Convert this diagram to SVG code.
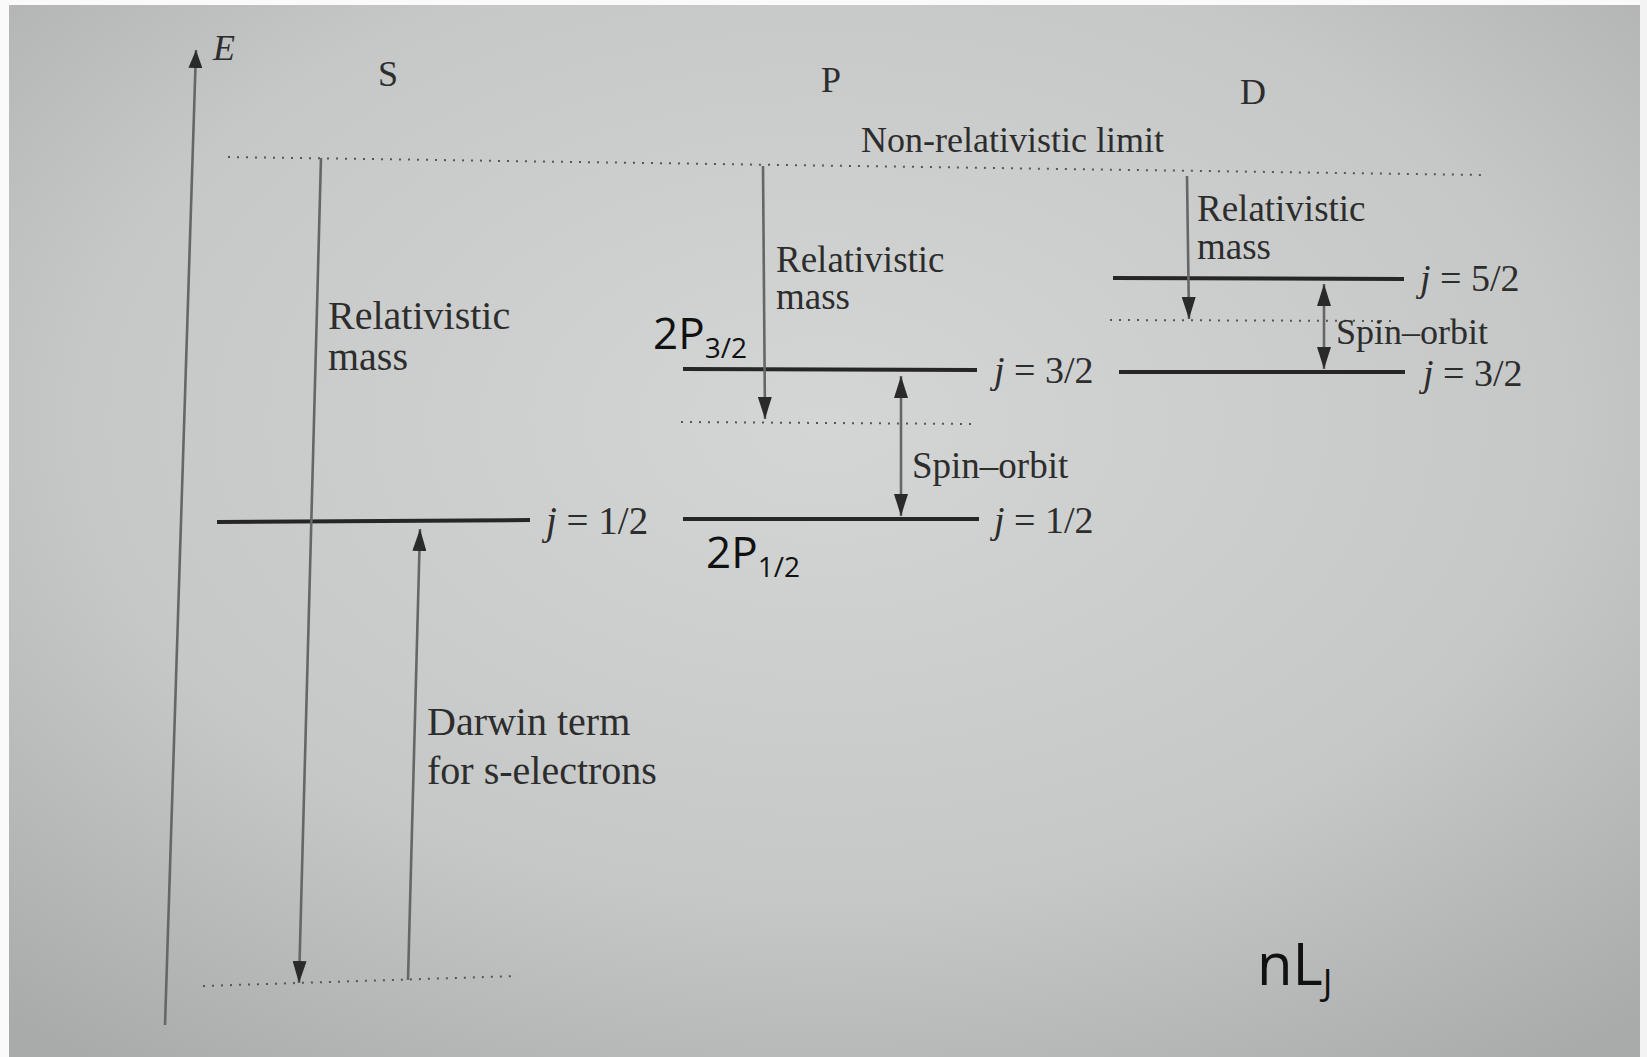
<svg xmlns="http://www.w3.org/2000/svg" width="1647" height="1057" viewBox="0 0 1647 1057">
<defs>
<radialGradient id="bg" cx="0.5" cy="0.4" r="0.75">
<stop offset="0" stop-color="#d4d6d5"/>
<stop offset="0.6" stop-color="#c6c8c7"/>
<stop offset="1" stop-color="#a9abaa"/>
</radialGradient>
<marker id="ah" viewBox="0 0 22 14" refX="22" refY="7" markerWidth="22" markerHeight="14" markerUnits="userSpaceOnUse" orient="auto-start-reverse">
<path d="M0,0 L22,7 L0,14 z" fill="#2a2a2a"/>
</marker>
<marker id="ahs" viewBox="0 0 18 14" refX="18" refY="7" markerWidth="18" markerHeight="14" markerUnits="userSpaceOnUse" orient="auto">
<path d="M0,0 L18,7 L0,14 z" fill="#2a2a2a"/>
</marker>
</defs>
<style>
.t{font-family:"Liberation Serif","Times New Roman",serif;fill:#2d2d2d;}
.s{font-family:"Open Sans","Noto Sans",sans-serif;fill:#111;}
.lvl{stroke:#262626;stroke-width:4;fill:none;}
.dot{stroke:#555;stroke-width:2;stroke-dasharray:2 7;fill:none;}
.arr{stroke:#666;stroke-width:2.6;fill:none;}
</style>
<rect x="0" y="0" width="1647" height="1057" fill="url(#bg)"/>
<rect x="0" y="0" width="1647" height="5" fill="#fafafa"/>
<rect x="0" y="0" width="9" height="1057" fill="#fafafa"/>
<rect x="1640" y="0" width="7" height="1057" fill="#f3f3f3"/>

<g id="axis">
<line class="arr" x1="165" y1="1025" x2="196" y2="50" marker-end="url(#ahs)" stroke="#777" stroke-width="3"/>
<text class="t" x="213" y="60" font-size="36" font-style="italic">E</text>
</g>

<g id="headers">
<text class="t" x="378" y="86" font-size="36">S</text>
<text class="t" x="821" y="92" font-size="36">P</text>
<text class="t" x="1240" y="104" font-size="36">D</text>
<text class="t" x="861" y="152" font-size="36">Non-relativistic limit</text>
</g>

<g id="nonrel-limit">
<line class="dot" x1="228" y1="157" x2="1481" y2="175"/>
</g>

<g id="S-level">
<line class="lvl" x1="217" y1="522" x2="530" y2="520"/>
<text class="t" x="546" y="534" font-size="39"><tspan font-style="italic">j</tspan> = 1/2</text>
<line class="dot" x1="203" y1="986" x2="518" y2="976"/>
</g>

<g id="P-levels">
<line class="lvl" x1="683" y1="369" x2="977" y2="370"/>
<text class="t" x="994" y="383" font-size="38"><tspan font-style="italic">j</tspan> = 3/2</text>
<line class="dot" x1="681" y1="422" x2="972" y2="424"/>
<line class="lvl" x1="683" y1="519" x2="979" y2="519"/>
<text class="t" x="994" y="533" font-size="38"><tspan font-style="italic">j</tspan> = 1/2</text>
<text class="s" x="653" y="349" font-size="44">2P<tspan font-size="28" dy="9">3/2</tspan></text>
<text class="s" x="706" y="568" font-size="44">2P<tspan font-size="28" dy="9">1/2</tspan></text>
</g>

<g id="D-levels">
<line class="lvl" x1="1113" y1="278" x2="1404" y2="279"/>
<text class="t" x="1420" y="291" font-size="38"><tspan font-style="italic">j</tspan> = 5/2</text>
<line class="dot" x1="1110" y1="320" x2="1397" y2="321"/>
<line class="lvl" x1="1119" y1="372" x2="1405" y2="372"/>
<text class="t" x="1423" y="386" font-size="38"><tspan font-style="italic">j</tspan> = 3/2</text>
</g>

<g id="connectors">
<line class="arr" x1="321" y1="158" x2="299" y2="983" marker-end="url(#ah)"/>
<line class="arr" x1="408" y1="980" x2="420" y2="529" marker-end="url(#ah)"/>
<line class="arr" x1="763" y1="166" x2="765" y2="419" marker-end="url(#ah)"/>
<line class="arr" x1="901" y1="376" x2="901" y2="516" marker-start="url(#ah)" marker-end="url(#ah)"/>
<line class="arr" x1="1187" y1="176" x2="1189" y2="319" marker-end="url(#ah)"/>
<line class="arr" x1="1324" y1="284" x2="1324" y2="369" marker-start="url(#ah)" marker-end="url(#ah)"/>
</g>

<g id="labels">
<text class="t" x="328" y="329" font-size="40">Relativistic</text>
<text class="t" x="328" y="370" font-size="40">mass</text>
<text class="t" x="427" y="735" font-size="40">Darwin term</text>
<text class="t" x="427" y="784" font-size="40">for s-electrons</text>
<text class="t" x="776" y="272" font-size="37">Relativistic</text>
<text class="t" x="776" y="309" font-size="37">mass</text>
<text class="t" x="912" y="478" font-size="37">Spin–orbit</text>
<text class="t" x="1197" y="221" font-size="37">Relativistic</text>
<text class="t" x="1197" y="259" font-size="37">mass</text>
<text class="t" x="1336" y="344" font-size="36">Spin–orbit</text>
</g>

<g id="notation">
<text class="s" x="1257" y="985" font-size="58">nL<tspan font-size="36" dy="10">J</tspan></text>
</g>
</svg>
